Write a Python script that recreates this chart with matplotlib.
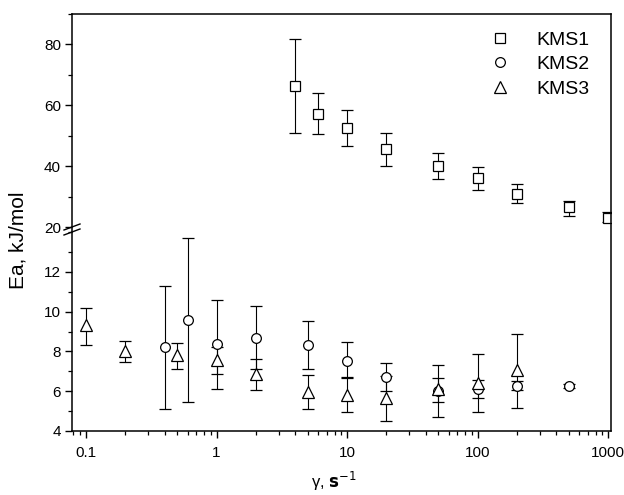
import numpy as np
import matplotlib
matplotlib.use("Agg")
import matplotlib.pyplot as plt
from matplotlib.ticker import FixedLocator, FixedFormatter, LogLocator, NullFormatter, MultipleLocator

plt.rcParams['font.family'] = ['Liberation Sans', 'DejaVu Sans']

# ---- data ----
kms1_x = [4, 6, 10, 20, 50, 100, 200, 500, 1000]
kms1_y = [66.3, 57.2, 52.4, 45.6, 40.0, 36.1, 31.0, 26.5, 23.1]
kms1_hi = [81.7, 64.0, 58.5, 50.8, 44.2, 39.8, 34.2, 28.7, 24.8]
kms1_lo = [50.9, 50.4, 46.6, 39.9, 35.7, 32.3, 27.9, 23.6, 21.7]

kms2_x = [0.4, 0.6, 1, 2, 5, 10, 20, 50, 100, 200, 500]
kms2_y = [8.2, 9.6, 8.35, 8.66, 8.33, 7.52, 6.72, 6.03, 6.13, 6.28, 6.25]
kms2_hi = [11.3, 13.68, 10.58, 10.26, 9.55, 8.48, 7.4, 6.64, 6.57, 6.5, 6.35]
kms2_lo = [5.13, 5.46, 6.85, 7.1, 7.14, 6.64, 6.0, 5.46, 5.68, 6.05, 6.15]

kms3_x = [0.1, 0.2, 0.5, 1, 2, 5, 10, 20, 50, 100, 200]
kms3_y = [9.32, 8.03, 7.81, 7.57, 6.85, 5.96, 5.81, 5.68, 6.1, 6.43, 7.07]
kms3_hi = [10.17, 8.5, 8.4, 8.2, 7.64, 6.8, 6.72, 6.75, 7.32, 7.86, 8.87]
kms3_lo = [8.31, 7.47, 7.1, 6.1, 6.05, 5.09, 4.93, 4.5, 4.72, 4.93, 5.14]

x_ticks = [0.1, 1, 10, 100, 1000]
x_tick_labels = ['0.1', '1', '10', '100', '1000']
upper_ticks = [20, 40, 60, 80]
lower_ticks = [4, 6, 8, 10, 12]
series_names = ['KMS1', 'KMS2', 'KMS3']

W, H = 624, 495
fig = plt.figure(figsize=(W / 100, H / 100), dpi=100)

def fx(px):
    return px / W

def fy(py):
    return 1 - py / H

L, R = 72, 611
T_up, B_up = 14, 227
T_lo, B_lo = 232, 431

ax_up = fig.add_axes([fx(L), fy(B_up), fx(R) - fx(L), fy(T_up) - fy(B_up)])
ax_lo = fig.add_axes([fx(L), fy(B_lo), fx(R) - fx(L), fy(T_lo) - fy(B_lo)])

# frame axes drawn on top
frame = fig.add_axes([fx(L), fy(B_lo), fx(R) - fx(L), fy(T_up) - fy(B_lo)])
frame.set_xticks([])
frame.set_yticks([])
frame.patch.set_alpha(0)
frame.set_zorder(5)
for s in frame.spines.values():
    s.set_linewidth(1.1)

for ax in (ax_up, ax_lo):
    ax.set_xscale('log')
    ax.set_xlim(0.078, 1050)
    ax.patch.set_alpha(0)
    for s in ax.spines.values():
        s.set_visible(False)
    ax.tick_params(axis='y', which='major', direction='out', length=5, width=1, labelsize=11, right=False, pad=3)
    ax.tick_params(axis='y', which='minor', direction='out', length=3, width=0.9, right=False)

ax_up.set_ylim(20, 90)
ax_up.yaxis.set_major_locator(FixedLocator(upper_ticks))
ax_up.yaxis.set_minor_locator(MultipleLocator(10))
ax_up.tick_params(axis='x', which='both', bottom=False, top=False, labelbottom=False)

ax_lo.set_ylim(4, 14)
ax_lo.yaxis.set_major_locator(FixedLocator(lower_ticks))
ax_lo.yaxis.set_minor_locator(MultipleLocator(1))
ax_lo.xaxis.set_major_locator(FixedLocator(x_ticks))
ax_lo.xaxis.set_major_formatter(FixedFormatter(x_tick_labels))
ax_lo.xaxis.set_minor_locator(LogLocator(base=10, subs=np.arange(2, 10)))
ax_lo.xaxis.set_minor_formatter(NullFormatter())
ax_lo.tick_params(axis='x', which='major', direction='out', length=5, width=1, labelsize=11, top=False, pad=6)
ax_lo.tick_params(axis='x', which='minor', direction='out', length=3, width=0.9, top=False)

ekw = dict(linestyle='none', color='black', ecolor='black', elinewidth=0.8,
           capsize=4, capthick=0.8, markerfacecolor='white', markeredgecolor='black',
           markeredgewidth=0.9)

def yerr(y, lo, hi):
    y = np.array(y); lo = np.array(lo); hi = np.array(hi)
    return [y - lo, hi - y]

ax_up.errorbar(kms1_x, kms1_y, yerr=yerr(kms1_y, kms1_lo, kms1_hi), marker='s', markersize=6.5, **ekw)
ax_lo.errorbar(kms2_x, kms2_y, yerr=yerr(kms2_y, kms2_lo, kms2_hi), marker='o', markersize=7, **ekw)
ax_lo.errorbar(kms3_x, kms3_y, yerr=yerr(kms3_y, kms3_lo, kms3_hi), marker='^', markersize=8, **ekw)

# legend (markers only)
lh = [plt.Line2D([], [], linestyle='none', marker=m, markersize=ms, markerfacecolor='white',
                 markeredgecolor='black', markeredgewidth=0.9) for m, ms in (('s', 6.5), ('o', 7), ('^', 8))]
fig.legend(lh, series_names, loc='upper left', frameon=False, fontsize=14,
           handlelength=2.0, handletextpad=0.85, labelspacing=0.36, borderpad=0, borderaxespad=0,
           bbox_to_anchor=(fx(481), fy(31)), bbox_transform=fig.transFigure)

# break marks on left spine
for yy in (227, 232):
    fig.add_artist(plt.Line2D([fx(L - 8), fx(L + 8)], [fy(yy + 3), fy(yy - 3)], color='black', lw=1.0, zorder=10))

fig.text(fx(18), fy(240), 'Ea, kJ/mol', rotation=90, ha='center', va='center', fontsize=15)
fig.text(fx(334), fy(481), r'γ, $\mathbf{s}^{-1}$', ha='center', va='center', fontsize=12)

fig.savefig('out.png', dpi=100)
